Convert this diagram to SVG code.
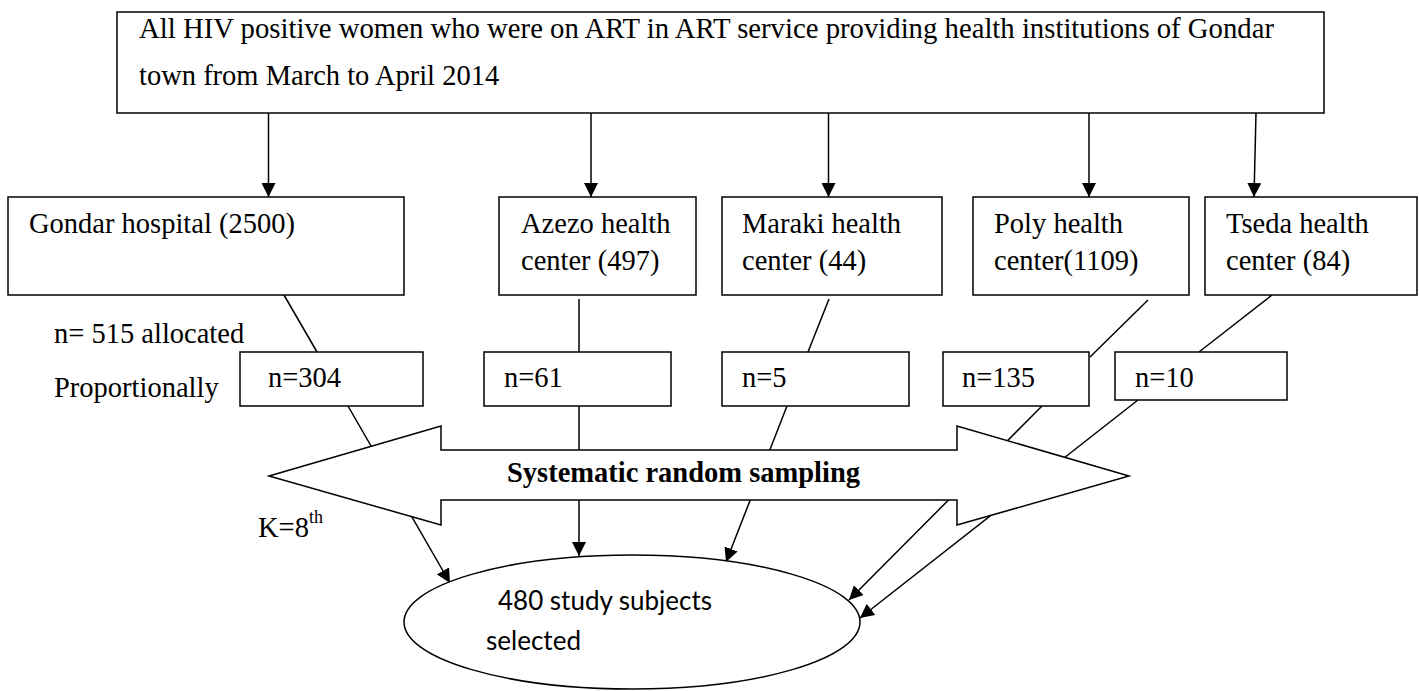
<svg xmlns="http://www.w3.org/2000/svg" width="1419" height="691" viewBox="0 0 1419 691">
<defs>
<style>
.box{fill:#fff;stroke:#000;stroke-width:1.5}
.t{font-family:"Liberation Serif","Times New Roman",serif;font-size:28.5px;fill:#000}
.b{font-weight:bold}
.s{font-family:Lato,"Open Sans","Liberation Sans",sans-serif;font-size:27px;fill:#000}
.ln{fill:none;stroke:#000;stroke-width:1.5}
.ar{fill:none;stroke:#000;stroke-width:1.5;marker-end:url(#ah)}
</style>
<marker id="ah" viewBox="0 0 10 10" refX="10" refY="5" markerWidth="14" markerHeight="14" markerUnits="userSpaceOnUse" orient="auto">
<path d="M0,0 L10,5 L0,10 z" fill="#000"/>
</marker>
</defs>
<rect width="1419" height="691" fill="#fff"/>

<g id="connectors">
<line class="ar" x1="268.5" y1="113" x2="268.5" y2="197"/>
<line class="ar" x1="591" y1="113" x2="591" y2="197"/>
<line class="ar" x1="828.5" y1="113" x2="828.5" y2="197"/>
<line class="ar" x1="1089" y1="113" x2="1089" y2="197"/>
<line class="ar" x1="1256" y1="113" x2="1254" y2="197"/>
<line class="ln" x1="284" y1="295" x2="317" y2="352"/>
<line class="ln" x1="579" y1="299" x2="579" y2="352"/>
<line class="ln" x1="829" y1="299" x2="808" y2="352"/>
<line class="ln" x1="1148" y1="300" x2="1090" y2="357"/>
<line class="ln" x1="1272" y1="295" x2="1199" y2="352"/>
<line class="ar" x1="348" y1="406" x2="450" y2="583"/>
<line class="ar" x1="579" y1="406" x2="579" y2="556"/>
<line class="ar" x1="787" y1="406" x2="726" y2="562"/>
<line class="ar" x1="1042" y1="406" x2="849" y2="600"/>
<line class="ar" x1="1138" y1="400" x2="860" y2="618"/>
</g>

<g id="top">
<rect class="box" x="117" y="12" width="1207" height="101"/>
<text class="t" x="139" y="38" textLength="1135" lengthAdjust="spacingAndGlyphs">All HIV positive women who were on ART in ART service providing health institutions of Gondar</text>
<text class="t" x="139" y="85">town from March to April 2014</text>
</g>

<g id="gondar">
<rect class="box" x="8" y="197" width="396" height="98"/>
<text class="t" x="29" y="233">Gondar hospital (2500)</text>
</g>
<g id="azezo">
<rect class="box" x="499" y="197" width="197" height="98"/>
<text class="t" x="521" y="233">Azezo health</text>
<text class="t" x="521" y="270">center (497)</text>
</g>
<g id="maraki">
<rect class="box" x="722" y="197" width="220" height="98"/>
<text class="t" x="742" y="233">Maraki health</text>
<text class="t" x="742" y="270">center (44)</text>
</g>
<g id="poly">
<rect class="box" x="973" y="197" width="216" height="98"/>
<text class="t" x="994" y="233">Poly health</text>
<text class="t" x="994" y="270">center(1109)</text>
</g>
<g id="tseda">
<rect class="box" x="1205" y="197" width="212" height="98"/>
<text class="t" x="1226" y="233">Tseda health</text>
<text class="t" x="1226" y="270">center (84)</text>
</g>

<g id="labels">
<text class="t" x="54" y="343">n= 515 allocated</text>
<text class="t" x="54" y="397">Proportionally</text>
<text class="t" x="258" y="537">K=8<tspan font-size="18" dy="-14">th</tspan></text>
</g>

<g id="n304">
<rect class="box" x="240" y="352" width="183" height="54"/>
<text class="t" x="268" y="387">n=304</text>
</g>
<g id="n61">
<rect class="box" x="484" y="352" width="187" height="54"/>
<text class="t" x="504" y="387">n=61</text>
</g>
<g id="n5">
<rect class="box" x="722" y="352" width="187" height="54"/>
<text class="t" x="742" y="387">n=5</text>
</g>
<g id="n135">
<rect class="box" x="943" y="352" width="146" height="54"/>
<text class="t" x="962" y="387">n=135</text>
</g>
<g id="n10">
<rect class="box" x="1115" y="352" width="172" height="48"/>
<text class="t" x="1135" y="387">n=10</text>
</g>

<g id="sampling">
<path class="box" d="M269,476 L441,426 L441,450 L957,450 L957,426 L1129,476 L957,525 L957,500 L441,500 L441,525 Z"/>
<text class="t b" x="507" y="482" textLength="353" lengthAdjust="spacingAndGlyphs">Systematic random sampling</text>
</g>

<g id="selected">
<ellipse class="box" cx="632" cy="622" rx="228" ry="67"/>
<text class="s" x="498" y="610" textLength="214" lengthAdjust="spacingAndGlyphs">480 study subjects</text>
<text class="s" x="486" y="650" textLength="95" lengthAdjust="spacingAndGlyphs">selected</text>
</g>
</svg>
